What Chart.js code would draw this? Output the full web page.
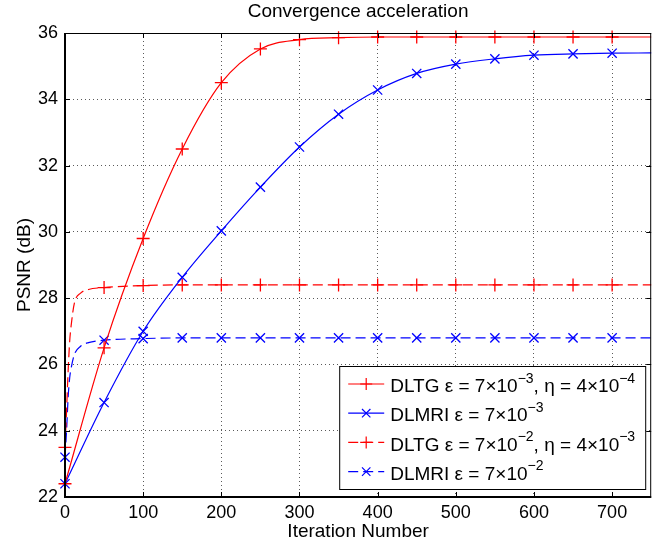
<!DOCTYPE html>
<html>
<head>
<meta charset="utf-8">
<script src="https://cdn.jsdelivr.net/npm/chart.js@4.4.1/dist/chart.umd.min.js"></script>
<style>
  body { margin: 0; background: #fff; }
  #wrap { width: 659px; height: 543px; }
</style>
</head>
<body>
<div id="wrap"><canvas id="psnrChart"></canvas></div>
<script>
// iterations where the slow curves were sampled (one marker every 50)
var iterMain = [0, 50, 100, 150, 200, 250, 300, 350, 400, 450, 500, 550, 600, 650, 700, 750];
var dltgSlow  = [22.4, 26.5, 29.8, 32.5, 34.5, 35.52, 35.8, 35.86, 35.88, 35.88, 35.88, 35.88, 35.88, 35.88, 35.88, 35.88];
var dlmriSlow = [22.4, 24.85, 27.0, 28.63, 30.03, 31.35, 32.56, 33.55, 34.28, 34.78, 35.06, 35.22, 35.33, 35.37, 35.39, 35.4];

// the fast (dashed) curves rise within the first few iterations
var iterFast  = [0, 2, 4, 6, 8, 12, 20, 30, 50, 100, 150, 200, 250, 300, 350, 400, 450, 500, 550, 600, 650, 700, 750];
var dltgFast  = [23.5, 24.6, 25.8, 26.7, 27.2, 27.85, 28.15, 28.26, 28.32, 28.38, 28.4, 28.4, 28.4, 28.4, 28.4, 28.4, 28.4, 28.4, 28.4, 28.4, 28.4, 28.4, 28.4];
var dlmriFast = [23.2, 24.0, 25.0, 25.6, 25.9, 26.3, 26.55, 26.66, 26.73, 26.78, 26.8, 26.8, 26.8, 26.8, 26.8, 26.8, 26.8, 26.8, 26.8, 26.8, 26.8, 26.8, 26.8];

var seriesLabels = [
  'DLTG ε = 7×10⁻³, η = 4×10⁻⁴',
  'DLMRI ε = 7×10⁻³',
  'DLTG ε = 7×10⁻², η = 4×10⁻³',
  'DLMRI ε = 7×10⁻²'
];

var xTicks = [0, 100, 200, 300, 400, 500, 600, 700];
var yTicks = [22, 24, 26, 28, 30, 32, 34, 36];

var FONT = "'Liberation Sans', Arial, sans-serif";

function pts(xs, ys) {
  return xs.map(function (x, i) { return { x: x, y: ys[i] }; });
}

// markers only on every 50th iteration up to 700
function markerRadius(c) {
  var x = c.raw ? c.raw.x : -1;
  return (x % 50 === 0 && x <= 700) ? 6.5 : 0;
}

function makeSet(label, data, color, style, dashed) {
  return {
    label: label,
    data: data,
    borderColor: color,
    backgroundColor: color,
    borderWidth: 1.2,
    borderDash: dashed ? [10, 5] : [],
    pointStyle: style,
    pointRadius: markerRadius,
    pointHoverRadius: markerRadius,
    pointBorderColor: color,
    pointBorderWidth: 1.3,
    cubicInterpolationMode: 'monotone',
    fill: false,
    clip: false
  };
}

var SUP = { '⁻': '−', '⁰': '0', '¹': '1', '²': '2', '³': '3', '⁴': '4', '⁵': '5', '⁶': '6', '⁷': '7', '⁸': '8', '⁹': '9' };

function drawRich(ctx, s, x, y, size) {
  var run = '', sup = false;
  function flush() {
    if (!run) return;
    ctx.font = (sup ? Math.round(size * 0.72) : size) + 'px ' + FONT;
    ctx.fillText(run, x, sup ? y - size * 0.42 : y);
    x += ctx.measureText(run).width;
    run = '';
  }
  for (var i = 0; i < s.length; i++) {
    var ch = s[i], isSup = SUP.hasOwnProperty(ch);
    if (isSup !== sup) { flush(); sup = isSup; }
    run += isSup ? SUP[ch] : ch;
  }
  flush();
}

var matlabFrame = {
  id: 'matlabFrame',
  afterDatasetsDraw: function (chart) {
    var ctx = chart.ctx, a = chart.chartArea;
    var xs = chart.scales.x, ys = chart.scales.y;
    ctx.save();
    ctx.strokeStyle = '#000';
    ctx.lineWidth = 1;
    ctx.setLineDash([]);
    ctx.strokeRect(a.left + 0.5, a.top + 0.5, a.right - a.left - 1, a.bottom - a.top - 1);
    ctx.lineWidth = 2;
    ctx.beginPath();
    ctx.moveTo(a.left, a.top); ctx.lineTo(a.left, a.bottom); ctx.lineTo(a.right, a.bottom);
    ctx.stroke();
    ctx.lineWidth = 1;
    ctx.beginPath();
    xTicks.forEach(function (v) {
      var px = Math.round(xs.getPixelForValue(v)) + 0.5;
      ctx.moveTo(px, a.bottom); ctx.lineTo(px, a.bottom - 5);
      ctx.moveTo(px, a.top); ctx.lineTo(px, a.top + 5);
    });
    yTicks.forEach(function (v) {
      var py = Math.round(ys.getPixelForValue(v)) + 0.5;
      ctx.moveTo(a.left, py); ctx.lineTo(a.left + 5, py);
      ctx.moveTo(a.right, py); ctx.lineTo(a.right - 5, py);
    });
    ctx.stroke();

    // title
    ctx.fillStyle = '#000';
    ctx.font = '19px ' + FONT;
    ctx.textAlign = 'center';
    ctx.textBaseline = 'middle';
    ctx.fillText('Convergence acceleration', (a.left + a.right) / 2, 12);

    // legend box
    var w = 306, h = 123;
    var left = a.right - 6 - w, top = a.bottom - 8 - h;
    ctx.fillStyle = '#fff';
    ctx.fillRect(left, top, w, h);
    ctx.strokeStyle = '#000';
    ctx.strokeRect(left + 0.5, top + 0.5, w, h);
    chart.data.datasets.forEach(function (ds, i) {
      var y = top + 18 + i * 29.2;
      ctx.strokeStyle = ds.borderColor;
      ctx.lineWidth = 1.2;
      ctx.setLineDash(ds.borderDash);
      ctx.beginPath();
      ctx.moveTo(left + 9, y); ctx.lineTo(left + 45, y);
      ctx.stroke();
      ctx.setLineDash([]);
      ctx.beginPath();
      var cx = left + 27, r = 6;
      if (ds.pointStyle === 'cross') {
        ctx.moveTo(cx - r, y); ctx.lineTo(cx + r, y);
        ctx.moveTo(cx, y - r); ctx.lineTo(cx, y + r);
      } else {
        var d = r * 0.7;
        ctx.moveTo(cx - d, y - d); ctx.lineTo(cx + d, y + d);
        ctx.moveTo(cx - d, y + d); ctx.lineTo(cx + d, y - d);
      }
      ctx.stroke();
      ctx.fillStyle = '#000';
      ctx.textAlign = 'left';
      ctx.textBaseline = 'middle';
      drawRich(ctx, ds.label, left + 51, y + 3, 19);
    });
    ctx.restore();
  }
};

var chart = new Chart(document.getElementById('psnrChart').getContext('2d'), {
  type: 'line',
  data: {
    datasets: [
      makeSet(seriesLabels[0], pts(iterMain, dltgSlow), '#ff0000', 'cross', false),
      makeSet(seriesLabels[1], pts(iterMain, dlmriSlow), '#0000ff', 'crossRot', false),
      makeSet(seriesLabels[2], pts(iterFast, dltgFast), '#ff0000', 'cross', true),
      makeSet(seriesLabels[3], pts(iterFast, dlmriFast), '#0000ff', 'crossRot', true)
    ]
  },
  options: {
    responsive: true,
    maintainAspectRatio: false,
    animation: false,
    layout: { padding: { top: 33, right: 4, bottom: 0, left: 0 } },
    plugins: {
      legend: { display: false },
      title: { display: false },
      tooltip: { enabled: false }
    },
    scales: {
      x: {
        type: 'linear',
        min: 0,
        max: 750,
        afterBuildTicks: function (s) { s.ticks = xTicks.map(function (v) { return { value: v }; }); },
        afterFit: function (s) { s.height = 46; },
        grid: { color: '#5a5a5a', drawTicks: false, lineWidth: 1 },
        border: { display: false, dash: [1, 3] },
        ticks: { color: '#000', font: { family: FONT, size: 18 }, padding: 5, maxRotation: 0 },
        title: { display: true, text: 'Iteration Number', color: '#000', font: { family: FONT, size: 19 }, padding: { top: 0, bottom: 0 } }
      },
      y: {
        min: 22,
        max: 36,
        afterBuildTicks: function (s) { s.ticks = yTicks.map(function (v) { return { value: v }; }); },
        afterFit: function (s) { s.width = 65; },
        grid: { color: '#5a5a5a', drawTicks: false, lineWidth: 1 },
        border: { display: false, dash: [1, 3] },
        ticks: { color: '#000', font: { family: FONT, size: 18 }, padding: 7 },
        title: { display: true, text: 'PSNR (dB)', color: '#000', font: { family: FONT, size: 19 }, padding: { top: 13, bottom: 0 } }
      }
    }
  },
  plugins: [matlabFrame]
});
</script>
</body>
</html>
